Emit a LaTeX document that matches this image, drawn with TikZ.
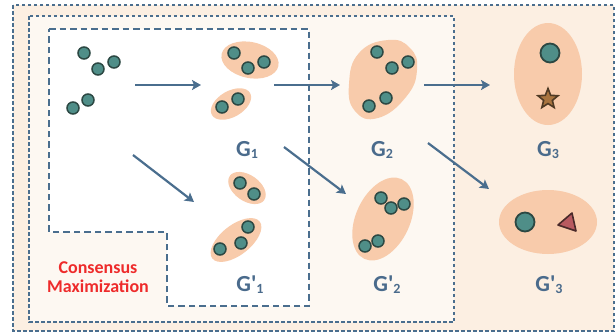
\documentclass[tikz,border=0pt]{standalone}
\usepackage{fontspec}
\setmainfont{Carlito}
\usetikzlibrary{arrows.meta,shapes.geometric}
\definecolor{lineblue}{HTML}{4A6E8E}
\definecolor{outerfill}{HTML}{FCEFE2}
\definecolor{midfill}{HTML}{FDF8F2}
\definecolor{blobfill}{HTML}{F8CBAB}
\definecolor{dotfill}{HTML}{4F8E88}
\definecolor{dotline}{HTML}{2C4843}
\definecolor{starfill}{HTML}{A8743F}
\definecolor{starline}{HTML}{4F3A24}
\definecolor{trifill}{HTML}{B85A60}
\definecolor{triline}{HTML}{4A2A2A}
\definecolor{labblue}{HTML}{4A6B8C}
\definecolor{cmred}{HTML}{EE2B2B}
\tikzset{
  dot/.style={circle,fill=dotfill,draw=dotline,line width=1.5pt,minimum size=12pt,inner sep=0pt},
  bigdot/.style={circle,fill=dotfill,draw=dotline,line width=1.8pt,minimum size=19pt,inner sep=0pt},
  blob/.style={fill=blobfill,draw=none},
  outerdash/.style={draw=lineblue,line width=1.3pt,dash pattern=on 3.5pt off 2.5pt},
  middash/.style={draw=lineblue,line width=1.3pt,dash pattern=on 3.5pt off 2.5pt},
  innerdash/.style={draw=lineblue,line width=2.2pt,dash pattern=on 6.5pt off 4pt},
  arr/.style={draw=lineblue,line width=2.2pt,-{Stealth[length=9pt,width=10pt,inset=2pt]}},
  glab/.style={text=labblue,font=\fontsize{23}{23}\selectfont\bfseries,inner sep=0pt,anchor=base},
  cmlab/.style={text=cmred,font=\fontsize{18}{19}\selectfont\bfseries,align=center,inner sep=0pt}
}
\newcommand{\gsub}[1]{\raisebox{-2pt}{\fontsize{14}{14}\selectfont #1}}
\newcommand{\gq}{\textquotesingle}
\begin{document}
\begin{tikzpicture}[x=1pt,y=-1pt]
\useasboundingbox (0,0) rectangle (616,333);
% panels
\fill[outerfill] (13,5) rectangle (614,331);
\fill[midfill] (29,16) rectangle (454,322);
\fill[white] (49,29) -- (309,29) -- (309,306) -- (167,306) -- (167,232) -- (49,232) -- cycle;
\draw[outerdash] (13,5) rectangle (614,331);
\draw[middash] (29,16) rectangle (454,322);
\draw[innerdash] (49,29) -- (309,29) -- (309,306) -- (167,306) -- (167,232) -- (49,232) -- cycle;
\node[cmlab] (cm) at (98,277) {Consensus\\Maximization};
% input dots
\node[dot] (i1) at (84,53) {};
\node[dot] (i2) at (98,69) {};
\node[dot] (i3) at (114,62) {};
\node[dot] (i4) at (88,100) {};
\node[dot] (i5) at (73,108) {};
% G1
\fill[blob,rotate around={-12:(250,60)}] (250,60) ellipse [x radius=29, y radius=18];
\fill[blob,rotate around={30:(231,104)}] (231,104) ellipse [x radius=22, y radius=13];
\node[dot] (a1) at (234,53) {};
\node[dot] (a2) at (248,68) {};
\node[dot] (a3) at (264,62) {};
\node[dot] (a4) at (238,99) {};
\node[dot] (a5) at (222,107) {};
\node[glab] (g1) at (247,156) {G\gsub{1}};
% G'1
\fill[blob,rotate around={-35:(247,188)}] (247,188) ellipse [x radius=21, y radius=13];
\fill[blob,rotate around={38:(236,240)}] (236,240) ellipse [x radius=30, y radius=15];
\node[dot] (b1) at (240,183) {};
\node[dot] (b2) at (254,194) {};
\node[dot] (b3) at (248,227) {};
\node[dot] (b4) at (241,243) {};
\node[dot] (b5) at (220,249) {};
\node[glab] (g1p) at (250,291) {G\gq\gsub{1}};
% G2
\fill[blob] plot[smooth cycle,tension=0.8] coordinates {(388,40) (410,48) (417,70) (406,97) (378,118) (355,111) (349,84) (359,53)};
\node[dot] (c1) at (377,52) {};
\node[dot] (c2) at (392,68) {};
\node[dot] (c3) at (408,62) {};
\node[dot] (c4) at (386,98) {};
\node[dot] (c5) at (369,106) {};
\node[glab] (g2) at (382,156) {G\gsub{2}};
% G'2
\fill[blob,rotate around={65:(383,219)}] (383,219) ellipse [x radius=44, y radius=27];
\node[dot] (d1) at (381,198) {};
\node[dot] (d2) at (391,208) {};
\node[dot] (d3) at (404,204) {};
\node[dot] (d4) at (378,241) {};
\node[dot] (d5) at (365,246) {};
\node[glab] (g2p) at (387,291) {G\gq\gsub{2}};
% G3
\fill[blob] (548,74) ellipse [x radius=34, y radius=51];
\node[bigdot] (e1) at (550,53) {};
\node[star,star points=5,star point ratio=2.3,minimum size=21pt,inner sep=0pt,fill=starfill,draw=starline,line width=1.6pt] (e2) at (548,99) {};
\node[glab] (g3) at (548,156) {G\gsub{3}};
% G'3
\fill[blob] (548,222) ellipse [x radius=49, y radius=32];
\node[bigdot] (f1) at (525,222) {};
\coordinate (t1) at (558,225);
\coordinate (t2) at (572,213);
\coordinate (t3) at (576,231);
\fill[trifill,draw=triline,line width=1.6pt,line join=round] (t1) -- (t2) -- (t3) -- cycle;
\node[glab] (g3p) at (549,291) {G\gq\gsub{3}};
% arrows
\coordinate (s1) at (135,85); \coordinate (e1a) at (201,85);
\coordinate (s2) at (274,85); \coordinate (e2a) at (340,85);
\coordinate (s3) at (424,85); \coordinate (e3a) at (490,85);
\coordinate (s4) at (133,155); \coordinate (e4a) at (194,202);
\coordinate (s5) at (284,147); \coordinate (e5a) at (346,194);
\coordinate (s6) at (428,143); \coordinate (e6a) at (489,189);
\draw[arr] (s1) -- (e1a);
\draw[arr] (s2) -- (e2a);
\draw[arr] (s3) -- (e3a);
\draw[arr] (s4) -- (e4a);
\draw[arr] (s5) -- (e5a);
\draw[arr] (s6) -- (e6a);
\end{tikzpicture}
\end{document}
